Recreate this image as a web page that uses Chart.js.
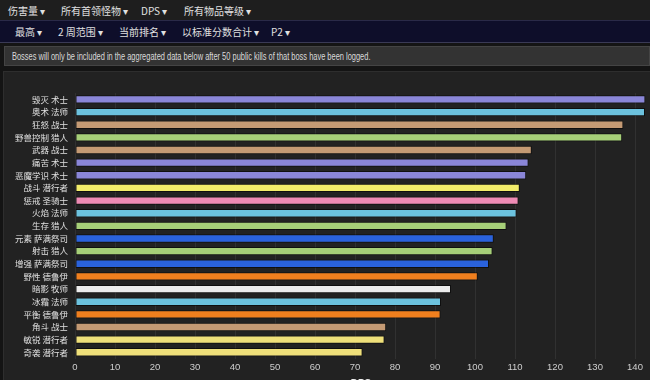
<!DOCTYPE html>
<html>
<head>
<meta charset="utf-8">
<script src="https://cdn.jsdelivr.net/npm/chart.js@4.4.0/dist/chart.umd.min.js"></script>
<style>
  html, body { margin: 0; padding: 0; background: #141414; width: 650px; height: 380px; overflow: hidden; font-family: "Noto Sans CJK SC", "Liberation Sans", sans-serif; }
  .bar { position: absolute; left: 0; width: 650px; }
  .bar span { position: absolute; top: 0; font-size: 10px; color: #e0e0e0; white-space: nowrap; }
  #menu1 { top: 0; height: 20px; background: #1e1e1e; }
  #menu1 span { line-height: 22px; }
  #menu2 { top: 20px; height: 21px; background: #0e0e2a; border-top: 1px solid #2a2a48; border-bottom: 1px solid #3a3a55; }
  #menu2 span { line-height: 21px; }
  #note { top: 46px; height: 20px; left: 4px; width: 646px; background: #333; border: 1px solid #444; box-sizing: border-box; }
  #note span { line-height: 19px; left: 7px; font-family: "Liberation Sans", sans-serif; font-size: 10.5px; color: #dadada; transform: scaleX(0.71); transform-origin: left center; }
  #panel { position: absolute; top: 71px; left: 3px; width: 647px; height: 320px; background: #222; border: 1px solid #2e2e2e; }
  #wrap { position: absolute; top: 81px; left: 5px; width: 642px; height: 313px; }
</style>
</head>
<body>
<div class="bar" id="menu1">
  <span style="left:8px">伤害量 ▾</span>
  <span style="left:61px">所有首领怪物 ▾</span>
  <span style="left:141px">DPS ▾</span>
  <span style="left:184px">所有物品等级 ▾</span>
</div>
<div class="bar" id="menu2">
  <span style="left:15px">最高 ▾</span>
  <span style="left:58px">2 周范围 ▾</span>
  <span style="left:119px">当前排名 ▾</span>
  <span style="left:182px">以标准分数合计 ▾</span>
  <span style="left:271px">P2 ▾</span>
</div>
<div class="bar" id="note"><span>Bosses will only be included in the aggregated data below after 50 public kills of that boss have been logged.</span></div>
<div id="panel"></div>
<div id="wrap"><canvas id="chart"></canvas></div>
<script>
const specs = ["毁灭 术士", "奥术 法师", "狂怒 战士", "野兽控制 猎人", "武器 战士", "痛苦 术士", "恶魔学识 术士",
  "战斗 潜行者", "惩戒 圣骑士", "火焰 法师", "生存 猎人", "元素 萨满祭司", "射击 猎人", "增强 萨满祭司",
  "野性 德鲁伊", "暗影 牧师", "冰霜 法师", "平衡 德鲁伊", "角斗 战士", "敏锐 潜行者", "奇袭 潜行者"];
const dps = [142.6, 142.5, 137.1, 136.8, 114.2, 113.4, 112.8, 111.2, 110.9, 110.4, 107.9, 104.7, 104.4,
  103.5, 100.7, 94.0, 91.5, 91.4, 77.8, 77.4, 71.9];
const xTicks = [0, 10, 20, 30, 40, 50, 60, 70, 80, 90, 100, 110, 120, 130, 140];

const classColors = {
  "术士": "#8a86d8", "法师": "#6cc2de", "战士": "#c49a74", "猎人": "#a6cf78", "潜行者": "#f2ec6a",
  "圣骑士": "#ee8bb4", "萨满祭司": "#2a62dc", "德鲁伊": "#f07f1e", "牧师": "#ececec"
};
const colors = specs.map(s => classColors[s.split(" ")[1]]);
colors[19] = "#efe07a"; colors[20] = "#efe07a";

new Chart(document.getElementById("chart"), {
  type: "bar",
  data: {
    labels: specs,
    datasets: [{
      data: dps,
      backgroundColor: colors,
      borderColor: "rgba(0,0,0,0.55)",
      borderWidth: 1,
      borderSkipped: false,
      categoryPercentage: 1,
      barPercentage: 0.66
    }]
  },
  options: {
    indexAxis: "y",
    responsive: true,
    maintainAspectRatio: false,
    animation: false,
    layout: { padding: { top: 8, right: 0, left: 0, bottom: 0 } },
    plugins: { legend: { display: false }, tooltip: { enabled: false } },
    scales: {
      x: {
        min: 0, max: 143,
        afterBuildTicks: s => { s.ticks = xTicks.map(v => ({ value: v })); },
        grid: { color: "rgba(255,255,255,0.07)", drawTicks: false },
        border: { display: false },
        ticks: { color: "#cfcfcf", font: { size: 9.5, family: "Liberation Sans" }, padding: 3 },
        title: { display: true, text: "DPS", color: "#eee", font: { size: 10, weight: "bold" }, padding: { top: 2 } }
      },
      y: {
        afterFit: s => { s.width = 70; },
        grid: { display: false, drawTicks: false },
        border: { display: false },
        ticks: { color: "#e0e0e0", font: { size: 8.5, family: "Noto Sans CJK SC" }, padding: 7, autoSkip: false }
      }
    }
  }
});
</script>
</body>
</html>
